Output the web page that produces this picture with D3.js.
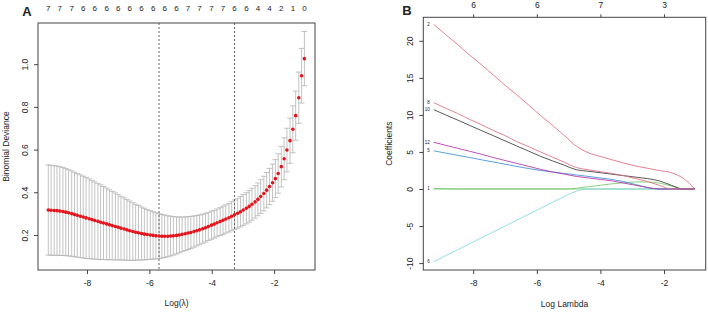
<!DOCTYPE html>
<html>
<head>
<meta charset="utf-8">
<script src="https://cdn.jsdelivr.net/npm/d3@7"></script>
<style>
  body { margin: 0; background: #fff; }
  svg { display: block; }
  text { font-family: "Liberation Sans", Arial, sans-serif; fill: #222; }
</style>
</head>
<body>
<div id="chart"></div>
<script>
// log(lambda) grid of the cv fit (glmnet order reversed: small -> large)
const logLambda = [
  -9.24, -9.15, -9.05, -8.96, -8.87, -8.77, -8.68, -8.59, -8.49, -8.40,
  -8.31, -8.21, -8.12, -8.03, -7.93, -7.84, -7.75, -7.65, -7.56, -7.47,
  -7.37, -7.28, -7.19, -7.09, -7.00, -6.91, -6.81, -6.72, -6.63, -6.53,
  -6.44, -6.35, -6.25, -6.16, -6.07, -5.97, -5.88, -5.79, -5.69, -5.60,
  -5.51, -5.41, -5.32, -5.23, -5.13, -5.04, -4.95, -4.85, -4.76, -4.67,
  -4.57, -4.48, -4.39, -4.29, -4.20, -4.11, -4.01, -3.92, -3.83, -3.73,
  -3.64, -3.55, -3.45, -3.36, -3.27, -3.17, -3.08, -2.99, -2.89, -2.80,
  -2.71, -2.61, -2.52, -2.43, -2.33, -2.24, -2.15, -2.05, -1.96, -1.87,
  -1.77, -1.68, -1.59, -1.49, -1.40, -1.31, -1.21, -1.12, -1.03
];
// mean binomial deviance
const cvMean = [
  0.317, 0.316, 0.315, 0.314, 0.312, 0.310, 0.307, 0.304, 0.300, 0.296,
  0.292, 0.288, 0.284, 0.280, 0.276, 0.272, 0.268, 0.264, 0.260, 0.256,
  0.252, 0.248, 0.244, 0.240, 0.236, 0.232, 0.228, 0.224, 0.220, 0.216,
  0.213, 0.210, 0.207, 0.204, 0.202, 0.200, 0.198, 0.196, 0.195, 0.194,
  0.194, 0.194, 0.195, 0.196, 0.198, 0.200, 0.203, 0.206, 0.209, 0.212,
  0.216, 0.220, 0.224, 0.229, 0.234, 0.240, 0.246, 0.251, 0.257, 0.263,
  0.269, 0.275, 0.281, 0.288, 0.295, 0.302, 0.309, 0.317, 0.325, 0.334,
  0.344, 0.355, 0.367, 0.380, 0.394, 0.410, 0.427, 0.445, 0.464, 0.488,
  0.520, 0.557, 0.598, 0.642, 0.695, 0.759, 0.843, 0.946, 1.026
];
// standard error of the deviance
const cvSD = [
  0.211, 0.211, 0.210, 0.209, 0.208, 0.206, 0.204, 0.202, 0.200, 0.198,
  0.196, 0.194, 0.192, 0.190, 0.187, 0.184, 0.181, 0.178, 0.175, 0.171,
  0.168, 0.164, 0.160, 0.157, 0.153, 0.149, 0.146, 0.142, 0.139, 0.135,
  0.131, 0.128, 0.124, 0.121, 0.117, 0.114, 0.111, 0.108, 0.105, 0.102,
  0.099, 0.096, 0.093, 0.090, 0.087, 0.084, 0.081, 0.079, 0.077, 0.075,
  0.073, 0.071, 0.070, 0.068, 0.067, 0.066, 0.066, 0.065, 0.065, 0.065,
  0.066, 0.066, 0.067, 0.068, 0.069, 0.070, 0.071, 0.072, 0.073, 0.074,
  0.075, 0.076, 0.077, 0.079, 0.081, 0.083, 0.085, 0.087, 0.089, 0.092,
  0.095, 0.098, 0.102, 0.106, 0.110, 0.115, 0.120, 0.128, 0.127
];
const lambdaMin = -5.69;
const lambda1se = -3.27;

// coarser grid used for the coefficient paths and the nonzero counts
const pathLambda = [
  -9.24, -8.87, -8.49, -8.12, -7.75, -7.37, -7.00, -6.63, -6.25, -5.88, -5.51, -5.13,
  -4.76, -4.39, -4.01, -3.64, -3.27, -2.89, -2.52, -2.15, -1.77, -1.40, -1.03
];
const nzeroCounts = [7, 7, 7, 6, 6, 6, 6, 6, 6, 6, 6, 6, 7, 7, 7, 7, 6, 6, 4, 4, 2, 1, 0];

const coef2  = [22.2, 20.85, 19.5, 18.1, 16.8, 15.4, 14.0, 12.7, 11.3, 9.9, 8.6, 7.2, 5.8, 4.9, 4.4, 3.95, 3.5, 3.1, 2.8, 2.5, 2.2, 1.45, 0];
const coef8  = [11.65, 10.9, 10.2, 9.4, 8.7, 7.9, 7.2, 6.4, 5.7, 5.0, 4.3, 3.6, 2.9, 2.6, 2.35, 2.1, 1.8, 1.4, 1.0, 0.5, 0, 0, 0];
const coef10 = [10.7, 10.0, 9.3, 8.6, 7.9, 7.2, 6.5, 5.8, 5.1, 4.4, 3.8, 3.2, 2.6, 2.4, 2.2, 2.0, 1.8, 1.6, 1.4, 1.1, 0.5, 0, 0];
const coef12 = [6.3, 5.9, 5.5, 5.1, 4.7, 4.25, 3.85, 3.45, 3.05, 2.65, 2.3, 2.0, 1.7, 1.5, 1.3, 1.1, 0.8, 0.5, 0.2, 0, 0, 0, 0];
const coef5  = [5.15, 4.85, 4.55, 4.25, 3.95, 3.65, 3.35, 3.05, 2.75, 2.5, 2.3, 2.1, 1.9, 1.7, 1.5, 1.3, 1.0, 0.6, 0.2, 0, 0, 0, 0];
const coef1  = [0.08, 0.04, 0.01, 0, 0, 0, 0, 0, 0, 0, 0, 0, 0.1, 0.3, 0.5, 0.7, 0.85, 0.95, 0.95, 0.8, 0.4, 0, 0];
const coef6  = [-9.8, -9.0, -8.2, -7.4, -6.6, -5.8, -5.0, -4.2, -3.4, -2.6, -1.8, -1.0, -0.3, 0, 0, 0, 0, 0, 0, 0, 0, 0, 0];
const coef3  = [0, 0, 0, 0, 0, 0, 0, 0, 0, 0, 0, 0, 0, 0, 0, 0, 0, 0, 0, 0, 0, 0, 0];

const dfTicks = [-8, -6, -4, -2];
const dfLabels = [6, 6, 7, 3];

const xTicks = [-8, -6, -4, -2];
const yTicksA = [0.2, 0.4, 0.6, 0.8, 1.0];
const yTicksB = [-10, -5, 0, 5, 10, 15, 20];

// R 4 default palette, cycled by matplot (thin lines read a little paler)
const pal = ["#3a3a3a", "#DF6B80", "#74C86A", "#3A8FD8", "#7FD6E6", "#B52FA8"];
// drawing order decides which colour stays visible on the zero line
const paths = [
  { id: "3", values: coef3, col: pal[2], label: false },
  { id: "1", values: coef1, col: pal[2], label: true },
  { id: "6", values: coef6, col: pal[4], label: true },
  { id: "10", values: coef10, col: pal[0], label: true },
  { id: "5", values: coef5, col: pal[3], label: true },
  { id: "12", values: coef12, col: pal[5], label: true },
  { id: "8", values: coef8, col: pal[1], label: true },
  { id: "2", values: coef2, col: pal[1], label: true }
];

const W = 708, H = 312;
const svg = d3.select("#chart").append("svg").attr("width", W).attr("height", H);

// ---------- panel A : cross-validation curve ----------
const A = { left: 38, right: 315, top: 23, bottom: 270 };
const xA = d3.scaleLinear().domain([-9.57, -0.69]).range([A.left, A.right]);
const yA = d3.scaleLinear().domain([0.036, 1.193]).range([A.bottom, A.top]);
const gA = svg.append("g");

// error bars
const capW = (xA(-1) - xA(-2)) * 0.09;
const bars = gA.append("g").attr("stroke", "#b4b4b4").attr("stroke-width", 0.8);
logLambda.forEach((l, i) => {
  const x = xA(l), up = yA(cvMean[i] + cvSD[i]), lo = yA(cvMean[i] - cvSD[i]);
  bars.append("line").attr("x1", x).attr("x2", x).attr("y1", up).attr("y2", lo);
  bars.append("line").attr("x1", x - capW).attr("x2", x + capW).attr("y1", up).attr("y2", up);
  bars.append("line").attr("x1", x - capW).attr("x2", x + capW).attr("y1", lo).attr("y2", lo);
});

// dotted lines at lambda.min and lambda.1se
[lambdaMin, lambda1se].forEach(v => {
  gA.append("line")
    .attr("x1", xA(v)).attr("x2", xA(v))
    .attr("y1", A.top).attr("y2", A.bottom)
    .attr("stroke", "#555").attr("stroke-width", 0.9)
    .attr("stroke-dasharray", "2,2");
});

gA.append("g").selectAll("circle")
  .data(logLambda)
  .enter().append("circle")
  .attr("cx", d => xA(d))
  .attr("cy", (d, i) => yA(cvMean[i]))
  .attr("r", 1.8)
  .attr("fill", "#e3141c");

// box
gA.append("rect")
  .attr("x", A.left).attr("y", A.top)
  .attr("width", A.right - A.left).attr("height", A.bottom - A.top)
  .attr("fill", "none").attr("stroke", "#444").attr("stroke-width", 1);

// axes
gA.append("g").attr("transform", `translate(0,${A.bottom})`)
  .call(d3.axisBottom(xA).tickValues(xTicks).tickSize(4).tickPadding(6).tickFormat(d => String(d)))
  .call(g => g.select(".domain").remove());
gA.append("g").attr("transform", `translate(${A.left},0)`)
  .call(d3.axisLeft(yA).tickValues(yTicksA).tickSize(4).tickFormat(d3.format(".1f")))
  .call(g => g.select(".domain").remove())
  .call(g => g.selectAll(".tick text")
    .attr("transform", "rotate(-90)").attr("x", 0).attr("y", -10)
    .attr("dy", 0).attr("text-anchor", "middle"));

// nonzero counts along the top
gA.append("g").selectAll("text")
  .data(pathLambda)
  .enter().append("text")
  .attr("x", d => xA(d)).attr("y", 11)
  .attr("text-anchor", "middle").attr("font-size", 8)
  .text((d, i) => nzeroCounts[i]);

gA.append("text").attr("x", (A.left + A.right) / 2).attr("y", 306)
  .attr("text-anchor", "middle").attr("font-size", 8.5).text("Log(λ)");
gA.append("text")
  .attr("transform", `translate(9,${(A.top + A.bottom) / 2}) rotate(-90)`)
  .attr("text-anchor", "middle").attr("font-size", 8.5).text("Binomial Deviance");
gA.append("text").attr("x", 27).attr("y", 16)
  .attr("text-anchor", "middle").attr("font-size", 13).attr("font-weight", "bold").text("A");

// ---------- panel B : coefficient paths ----------
const B = { left: 423.3, right: 705.7, top: 17.3, bottom: 270 };
const xB = d3.scaleLinear().domain([-9.57, -0.69]).range([B.left, B.right]);
const yB = d3.scaleLinear().domain([-10.93, 23.17]).range([B.bottom, B.top]);
const gB = svg.append("g");

const line = d3.line()
  .x((d, i) => xB(pathLambda[i]))
  .y(d => yB(d))
  .curve(d3.curveMonotoneX);

gB.append("g").selectAll("path")
  .data(paths)
  .enter().append("path")
  .attr("d", d => line(d.values))
  .attr("fill", "none")
  .attr("stroke", d => d.col)
  .attr("stroke-width", 0.85);

// variable labels at the small-lambda end
gB.append("g").selectAll("text")
  .data(paths.filter(p => p.label))
  .enter().append("text")
  .attr("x", xB(pathLambda[0]) - 4)
  .attr("y", d => yB(d.values[0]) + 1.6)
  .attr("text-anchor", "end").attr("font-size", 4.5)
  .text(d => d.id);

gB.append("rect")
  .attr("x", B.left).attr("y", B.top)
  .attr("width", B.right - B.left).attr("height", B.bottom - B.top)
  .attr("fill", "none").attr("stroke", "#444").attr("stroke-width", 1);

gB.append("g").attr("transform", `translate(0,${B.bottom})`)
  .call(d3.axisBottom(xB).tickValues(xTicks).tickSize(4).tickPadding(6).tickFormat(d => String(d)))
  .call(g => g.select(".domain").remove());
gB.append("g").attr("transform", `translate(${B.left},0)`)
  .call(d3.axisLeft(yB).tickValues(yTicksB).tickSize(4).tickFormat(d => String(d)))
  .call(g => g.select(".domain").remove())
  .call(g => g.selectAll(".tick text")
    .attr("transform", "rotate(-90)").attr("x", 0).attr("y", -10)
    .attr("dy", 0).attr("text-anchor", "middle"));
gB.append("g").attr("transform", `translate(0,${B.top})`)
  .call(d3.axisTop(xB).tickValues(dfTicks).tickSize(3).tickPadding(6).tickFormat((d, i) => dfLabels[i]))
  .call(g => g.select(".domain").remove());

gB.append("text").attr("x", (B.left + B.right) / 2).attr("y", 307)
  .attr("text-anchor", "middle").attr("font-size", 8.5).text("Log Lambda");
gB.append("text")
  .attr("transform", `translate(392,${(B.top + B.bottom) / 2}) rotate(-90)`)
  .attr("text-anchor", "middle").attr("font-size", 8.5).text("Coefficients");
gB.append("text").attr("x", 407).attr("y", 15)
  .attr("text-anchor", "middle").attr("font-size", 13).attr("font-weight", "bold").text("B");

// axis styling like base R
svg.selectAll(".tick line").attr("stroke", "#444");
svg.selectAll(".tick text").attr("font-size", 8.5).attr("fill", "#222")
  .attr("font-family", "'Liberation Sans', Arial, sans-serif");
</script>
</body>
</html>
